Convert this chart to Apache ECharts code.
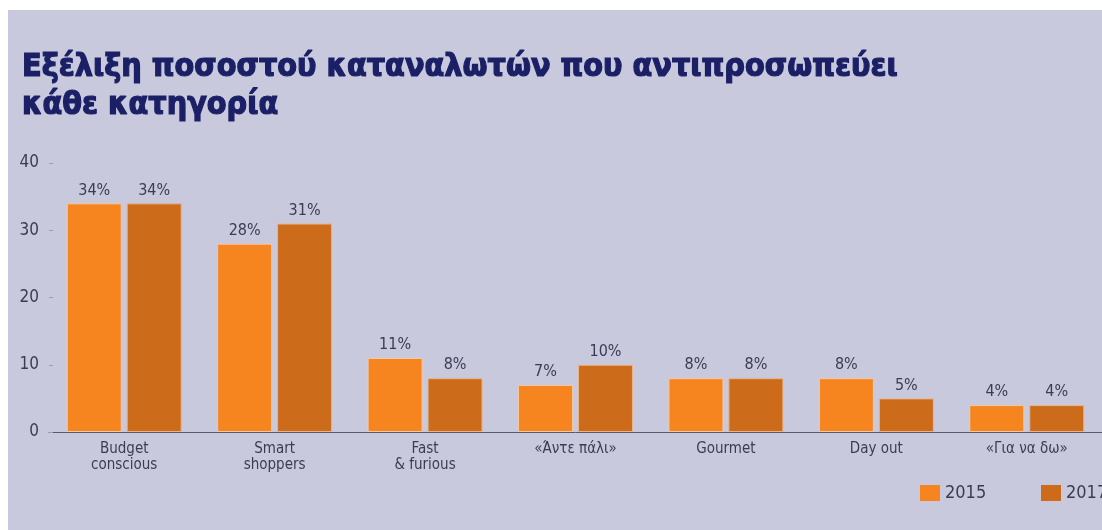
<!DOCTYPE html>
<html>
<head>
<meta charset="utf-8">
<script src="https://cdn.jsdelivr.net/npm/echarts@6/dist/echarts.min.js"></script>
<style>
  html, body { margin: 0; padding: 0; background: #ffffff; }
  #chart { position: absolute; left: 8px; top: 10px; width: 1094px; height: 520px; }
</style>
</head>
<body>
<div id="chart"></div>
<script>
// Share of consumers in each shopper category, 2015 vs 2017 (%)
const categories = ['Budget\nconscious', 'Smart\nshoppers', 'Fast\n& furious', '«Άντε πάλι»', 'Gourmet', 'Day out', '«Για να δω»'];
const values2015 = [34, 28, 11, 7, 8, 8, 4];
const values2017 = [34, 31, 8, 10, 8, 5, 4];
const yTicks = [0, 10, 20, 30, 40];
const seriesNames = ['2015', '2017'];

const narrow = "'Liberation Sans Narrow', 'DejaVu Sans Condensed', 'Roboto Condensed', sans-serif";
const textColor = '#3a3d52';
const titleColor = '#1b1f66';

const chart = echarts.init(document.getElementById('chart'));

const barLabel = {
  show: true,
  position: 'top',
  distance: 5,
  formatter: p => p.value + '%',
  color: textColor,
  fontFamily: narrow,
  fontSize: 16
};

// one legend per year so each keeps its own spot, even near the right edge
const legendBase = {
  top: 469,
  itemWidth: 20,
  itemHeight: 16,
  icon: 'rect',
  itemStyle: { borderWidth: 0 },
  textStyle: { color: textColor, fontFamily: narrow, fontSize: 18 }
};

chart.setOption({
  backgroundColor: '#c9c9dd',
  animation: false,
  title: {
    text: 'Εξέλιξη ποσοστού καταναλωτών που αντιπροσωπεύει\nκάθε κατηγορία',
    left: 9,
    top: 34,
    textStyle: {
      color: titleColor,
      fontFamily: "'DejaVu Sans Condensed', 'Liberation Sans Narrow', sans-serif",
      fontWeight: 'bold',
      fontSize: 32,
      lineHeight: 38,
      textBorderColor: titleColor,
      textBorderWidth: 1.2
    }
  },
  legend: [
    Object.assign({ data: [seriesNames[0]], left: 907 }, legendBase),
    Object.assign({ data: [seriesNames[1]], left: 1028 }, legendBase)
  ],
  grid: { left: 41, right: -6, top: 153, bottom: 98 },
  xAxis: {
    type: 'category',
    data: categories,
    axisLine: { lineStyle: { color: '#555a72', width: 1 } },
    axisTick: { show: false },
    axisLabel: {
      color: textColor,
      fontFamily: narrow,
      fontSize: 15,
      lineHeight: 16,
      margin: 9,
      interval: 0
    }
  },
  yAxis: {
    type: 'value',
    min: yTicks[0],
    max: yTicks[yTicks.length - 1],
    interval: 10,
    splitLine: { show: false },
    axisLine: { show: false },
    axisTick: { show: true, inside: true, length: 4, lineStyle: { color: '#9a9cb4' } },
    axisLabel: { color: textColor, fontFamily: narrow, fontSize: 17, margin: 10 }
  },
  series: [
    {
      name: seriesNames[0],
      type: 'bar',
      data: values2015,
      barWidth: 55,
      barGap: '9%',
      itemStyle: { color: '#f6841f', borderColor: '#f2c9a6', borderWidth: 1 },
      label: barLabel
    },
    {
      name: seriesNames[1],
      type: 'bar',
      data: values2017,
      barWidth: 55,
      itemStyle: { color: '#cc6c1b', borderColor: '#e9b48a', borderWidth: 1 },
      label: barLabel
    }
  ]
});
</script>
</body>
</html>
